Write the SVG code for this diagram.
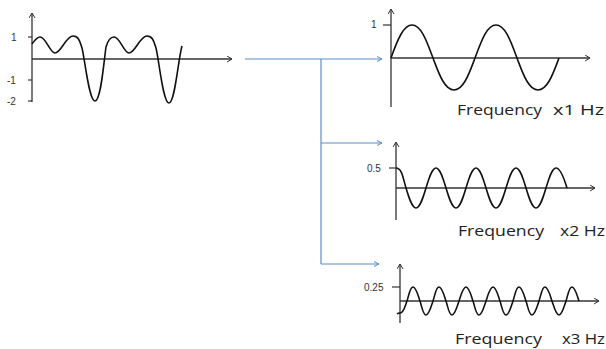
<svg xmlns="http://www.w3.org/2000/svg" width="606" height="349" viewBox="0 0 606 349">
<defs>
<marker id="ax" markerWidth="8" markerHeight="8" refX="6" refY="3.5" orient="auto" markerUnits="userSpaceOnUse">
<path d="M1,0.5 L6,3.5 L1,6.5" fill="none" stroke="#333" stroke-width="1"/>
</marker>
<marker id="bl" markerWidth="8" markerHeight="8" refX="6" refY="3.5" orient="auto" markerUnits="userSpaceOnUse">
<path d="M1,1 L6,3.5 L1,6" fill="none" stroke="#5b8ccb" stroke-width="1"/>
</marker>
</defs>
<style>
.axis{stroke:#333;stroke-width:1.3;fill:none}
.tick{stroke:#333;stroke-width:1.2}
.wave{stroke:#111;stroke-width:1.6;fill:none}
.conn{stroke:#5b8ccb;stroke-width:1.2;fill:none}
.tl{font-family:"Liberation Sans",Arial,sans-serif;font-size:10px;fill:#333}
.lab{font-family:"Open Sans","Noto Sans",sans-serif;font-size:15px;fill:#222}
</style>

<g id="input-signal">
<line class="axis" x1="32" y1="102" x2="32" y2="13" marker-end="url(#ax)"/>
<line class="axis" x1="32" y1="59" x2="232" y2="59" marker-end="url(#ax)"/>
<line class="tick" x1="28" y1="37" x2="32" y2="37"/>
<line class="tick" x1="28" y1="80" x2="32" y2="80"/>
<line class="tick" x1="28" y1="101" x2="32" y2="101"/>
<text class="tl" x="11" y="41">1</text>
<text class="tl" x="7" y="84">-1</text>
<text class="tl" x="7" y="105">-2</text>
<path class="wave" d="M32,44 C35,40 37,37 40,37 C46,37 50,53 55,53 C61,53 66,36 73,36 C79,36 80,42 82,48 C85,60 89,101 95,101 C101,101 104,60 106,47 C108,40 110,37 114,37 C120,37 124,53 129,53 C135,53 140,36 147,36 C153,36 154,42 156,48 C159,60 163,103 169,103 C175,103 178,60 182,46"/>
</g>

<g id="connectors">
<polyline class="conn" points="245,59 321,59"/>
<line class="conn" x1="321" y1="59" x2="321" y2="264"/>
<line class="conn" x1="321" y1="59" x2="382" y2="59" marker-end="url(#bl)"/>
<line class="conn" x1="321" y1="143" x2="382" y2="143" marker-end="url(#bl)"/>
<line class="conn" x1="321" y1="264" x2="379" y2="264" marker-end="url(#bl)"/>
</g>

<g id="freq-x1">
<line class="axis" x1="391" y1="107" x2="391" y2="9" marker-end="url(#ax)"/>
<line class="axis" x1="391" y1="58" x2="590" y2="58" marker-end="url(#ax)"/>
<line class="tick" x1="383" y1="25" x2="391" y2="25"/>
<text class="tl" x="371" y="28">1</text>
<path class="wave" d="M391,58 C398,38 404,25 412,25 C422,25 428,45 433,58 C438,71 444,90 454,90 C464,90 470,71 475,58 C480,45 486,25 496,25 C506,25 512,45 517,58 C522,71 528,90 538,90 C548,90 554,71 559,58"/>
<text class="lab" x="457" y="115" textLength="85" lengthAdjust="spacingAndGlyphs">Frequency</text>
<text class="lab" x="553" y="115" textLength="51" lengthAdjust="spacingAndGlyphs">x1 Hz</text>
</g>

<g id="freq-x2">
<line class="axis" x1="396" y1="220" x2="396" y2="142" marker-end="url(#ax)"/>
<line class="axis" x1="396" y1="188" x2="595" y2="188" marker-end="url(#ax)"/>
<line class="tick" x1="389" y1="168" x2="396" y2="168"/>
<text class="tl" x="367" y="172">0.5</text>
<path class="wave" d="M396,168 C402,168 403,178 406,188 C409,198 412,208 416,208 C420,208 423,198 426,188 C429,178 432,168 436,168 C440,168 443,178 446,188 C449,198 452,208 456,208 C460,208 463,198 466,188 C469,178 472,168 476,168 C480,168 483,178 486,188 C489,198 492,208 496,208 C500,208 503,198 506,188 C509,178 512,168 516,168 C520,168 523,178 526,188 C529,198 532,208 536,208 C540,208 543,198 546,188 C549,178 552,168 556,168 C560,168 564,178 567,188"/>
<text class="lab" x="458" y="236" textLength="86" lengthAdjust="spacingAndGlyphs">Frequency</text>
<text class="lab" x="560" y="236" textLength="45" lengthAdjust="spacingAndGlyphs">x2 Hz</text>
</g>

<g id="freq-x3">
<line class="axis" x1="400" y1="323" x2="400" y2="264" marker-end="url(#ax)"/>
<line class="axis" x1="400" y1="301" x2="599" y2="301" marker-end="url(#ax)"/>
<line class="tick" x1="392" y1="287" x2="400" y2="287"/>
<text class="tl" x="364" y="291">0.25</text>
<path class="wave" d="M397,314 C398,313 400,313 400,313 C404,313 405,306 407,301 C409,295 410,287 413,287 C416,287 418,295 420,301 C422,307 423,315 426,315 C429,315 431,307 433,301 C435,295 436,287 439,287 C442,287 444,295 446,301 C448,307 449,315 452,315 C455,315 457,307 459,301 C461,295 463,287 466,287 C469,287 471,295 473,301 C475,307 476,315 479,315 C482,315 484,307 486,301 C488,295 490,287 493,287 C496,287 498,295 500,301 C502,307 503,315 506,315 C509,315 511,307 513,301 C515,295 516,287 519,287 C522,287 524,295 526,301 C528,307 529,315 532,315 C535,315 537,307 539,301 C541,295 542,287 545,287 C548,287 550,295 552,301 C554,307 556,315 559,315 C562,315 564,307 566,301 C568,295 569,287 572,287 C575,287 577,295 579,301"/>
<text class="lab" x="455" y="344" textLength="87" lengthAdjust="spacingAndGlyphs">Frequency</text>
<text class="lab" x="562" y="344" textLength="43" lengthAdjust="spacingAndGlyphs">x3 Hz</text>
</g>
</svg>
